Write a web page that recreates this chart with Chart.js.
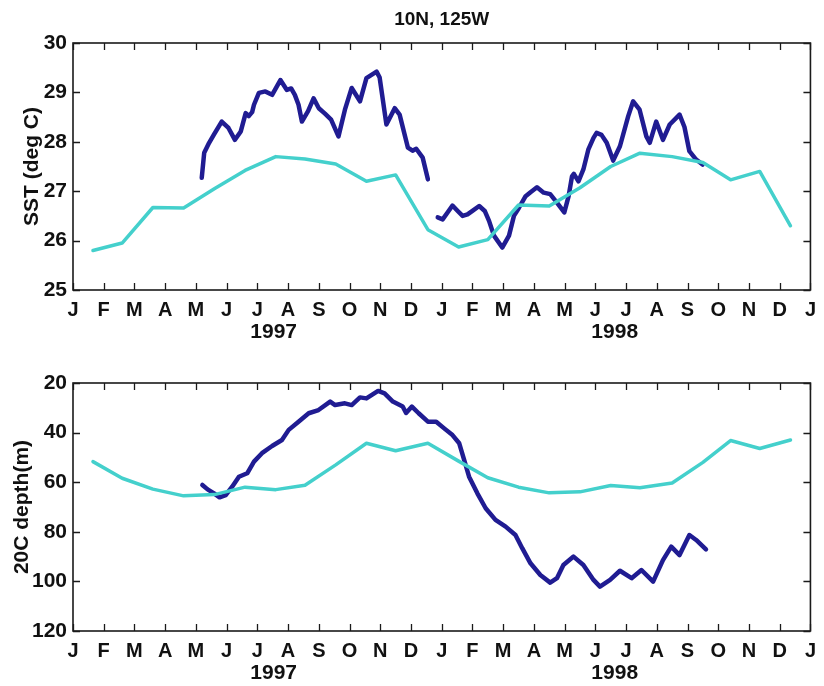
<!DOCTYPE html>
<html>
<head>
<meta charset="utf-8">
<title>10N, 125W</title>
<script src="https://cdn.jsdelivr.net/npm/chart.js@4"></script>
<style>
  body { margin: 0; background: #fff; }
  canvas { display: block; }
</style>
</head>
<body>
<canvas id="sstChart" width="824" height="343"></canvas>
<canvas id="depthChart" width="824" height="343"></canvas>
<script>
// month axis: 0 = 1 Jan 1997, 24 = 1 Jan 1999
const monthLetters = ['J', 'F', 'M', 'A', 'M', 'J', 'J', 'A', 'S', 'O', 'N', 'D'];
const yearLabels = ['1997', '1998'];
const yearLabelAt = [6.53, 17.63];

// monthly climatology, plotted near mid-month
const climX = [0.65, 1.6, 2.6, 3.6, 4.6, 5.6, 6.6, 7.55, 8.55, 9.55, 10.5, 11.55,
  12.55, 13.5, 14.5, 15.5, 16.5, 17.5, 18.45, 19.5, 20.5, 21.4, 22.35, 23.35];
const sstClim = [25.8, 25.95, 26.67, 26.66, 27.05, 27.42, 27.7, 27.65, 27.55, 27.2, 27.33, 26.22,
  25.87, 26.02, 26.72, 26.7, 27.07, 27.5, 27.77, 27.7, 27.58, 27.23, 27.4, 26.3];
const depthClim = [51.7, 58.4, 62.8, 65.5, 65, 62, 63, 61.2, 53, 44.3, 47.3, 44.3,
  51.5, 58.2, 62, 64.3, 63.9, 61.3, 62.2, 60.3, 52, 43.2, 46.4, 43];

// mooring SST, 1997 deployment
const sst97X = [4.19, 4.27, 4.43, 4.59, 4.84, 5.06, 5.27, 5.46, 5.62, 5.72, 5.83, 5.89, 6.05, 6.26,
  6.48, 6.75, 6.96, 7.1, 7.22, 7.34, 7.45, 7.65, 7.83, 8.0, 8.2, 8.4, 8.64, 8.85, 9.07, 9.34,
  9.55, 9.88, 9.98, 10.2, 10.47, 10.63, 10.9, 11.05, 11.17, 11.38, 11.55];
const sst97Y = [27.27, 27.78, 27.98, 28.15, 28.41, 28.28, 28.04, 28.21, 28.58, 28.52, 28.6, 28.75,
  28.99, 29.02, 28.95, 29.25, 29.05, 29.08, 28.95, 28.75, 28.41, 28.62, 28.88, 28.68, 28.57, 28.45,
  28.11, 28.65, 29.09, 28.82, 29.29, 29.42, 29.3, 28.35, 28.68, 28.55, 27.88, 27.82, 27.86, 27.68, 27.24];

// mooring SST, 1998 deployment
const sst98X = [11.87, 12.03, 12.19, 12.35, 12.52, 12.68, 12.84, 13.0, 13.22, 13.4, 13.54, 13.7,
  13.97, 14.19, 14.35, 14.51, 14.73, 14.89, 15.1, 15.32, 15.53, 15.75, 15.99, 16.13, 16.24, 16.3,
  16.45, 16.61, 16.77, 16.94, 17.04, 17.2, 17.37, 17.58, 17.8, 18.07, 18.23, 18.44, 18.66, 18.77,
  18.98, 19.2, 19.42, 19.74, 19.9, 20.06, 20.28, 20.49];
const sst98Y = [26.47, 26.43, 26.57, 26.71, 26.6, 26.5, 26.53, 26.6, 26.7, 26.6, 26.4, 26.1,
  25.86, 26.1, 26.5, 26.66, 26.9, 26.98, 27.08, 26.97, 26.94, 26.77, 26.57, 26.9, 27.3, 27.35,
  27.2, 27.44, 27.84, 28.08, 28.18, 28.14, 27.98, 27.62, 27.91, 28.52, 28.82, 28.65, 28.11, 27.98,
  28.41, 28.04, 28.35, 28.55, 28.3, 27.81, 27.64, 27.54];

// mooring 20C isotherm depth
const depthX = [4.21, 4.38, 4.59, 4.77, 4.97, 5.18, 5.4, 5.67, 5.89, 6.15, 6.48, 6.8, 7.02, 7.34,
  7.67, 7.99, 8.37, 8.53, 8.85, 9.07, 9.34, 9.55, 9.93, 10.14, 10.41, 10.73, 10.84, 11.03, 11.25,
  11.55, 11.82, 12.08, 12.35, 12.57, 12.73, 12.89, 13.16, 13.43, 13.75, 14.08, 14.4, 14.62, 14.89,
  15.21, 15.53, 15.75, 15.96, 16.29, 16.61, 16.94, 17.15, 17.48, 17.8, 18.18, 18.5, 18.88, 19.2,
  19.47, 19.74, 20.06, 20.28, 20.6];
const depthY = [61.1, 62.9, 64.5, 66.1, 65.2, 61.8, 57.8, 56.4, 51.7, 48.3, 45.4, 43.0, 38.9, 35.6,
  32.2, 30.9, 27.5, 28.9, 28.2, 28.9, 25.8, 26.2, 23.2, 24.2, 27.5, 29.5, 32.1, 29.5, 32.2,
  35.6, 35.6, 38.3, 41.0, 44.3, 51.0, 57.8, 64.5, 70.5, 75.2, 77.9, 81.3, 86.6, 92.7,
  97.4, 100.5, 98.7, 93.4, 90.0, 93.4, 99.4, 102.1, 99.4, 95.7, 98.7, 95.4, 100.1, 91.4,
  86.0, 89.4, 81.3, 83.3, 87.1];

const NAVY = '#201c92';
const CYAN = '#44d0cc';
const FONT = '"Liberation Sans", Arial, sans-serif';

const pairs = (xs, ys) => xs.map((x, i) => ({ x: x, y: ys[i] }));

// box, inward ticks, title, year labels and rotated y title
const framePlugin = {
  id: 'frame',
  afterDraw(chart, args, opts) {
    const { ctx, chartArea: a, scales: { x, y } } = chart;
    ctx.save();
    ctx.strokeStyle = '#1a1a1a';
    ctx.lineWidth = 1.6;
    ctx.strokeRect(a.left, a.top, a.width, a.height);
    ctx.lineWidth = 1.3;
    ctx.beginPath();
    x.ticks.forEach(t => {
      const px = Math.round(x.getPixelForValue(t.value)) + 0.5;
      ctx.moveTo(px, a.bottom); ctx.lineTo(px, a.bottom - 7);
      ctx.moveTo(px, a.top); ctx.lineTo(px, a.top + 7);
    });
    y.ticks.forEach(t => {
      const py = Math.round(y.getPixelForValue(t.value)) + 0.5;
      ctx.moveTo(a.left, py); ctx.lineTo(a.left + 7, py);
      ctx.moveTo(a.right, py); ctx.lineTo(a.right - 7, py);
    });
    ctx.stroke();

    ctx.fillStyle = '#111';
    ctx.textAlign = 'center';
    ctx.textBaseline = 'middle';
    if (opts.title) {
      ctx.font = 'bold 19px ' + FONT;
      ctx.fillText(opts.title, (a.left + a.right) / 2, a.top - 23);
    }
    ctx.font = 'bold 21px ' + FONT;
    yearLabels.forEach((lab, i) => {
      ctx.fillText(lab, x.getPixelForValue(yearLabelAt[i]), a.bottom + 42);
    });
    ctx.save();
    ctx.translate(a.left - opts.yTitleOffset, (a.top + a.bottom) / 2);
    ctx.rotate(-Math.PI / 2);
    ctx.font = 'bold 21px ' + FONT;
    ctx.fillText(opts.yTitle, 0, 0);
    ctx.restore();
    ctx.restore();
  }
};

function makeChart(id, datasets, yOpts, frameOpts, topPad, xHeight) {
  return new Chart(document.getElementById(id), {
    type: 'line',
    data: { datasets: datasets },
    plugins: [framePlugin],
    options: {
      responsive: false,
      animation: false,
      layout: { padding: { top: topPad, right: 9, left: 0, bottom: 0 } },
      elements: {
        point: { radius: 0 },
        line: { tension: 0, borderCapStyle: 'round', borderJoinStyle: 'round' }
      },
      plugins: { legend: { display: false }, tooltip: { enabled: false }, frame: frameOpts },
      scales: {
        x: {
          type: 'linear', min: 0, max: 24,
          grid: { display: false, drawTicks: false },
          border: { display: false },
          ticks: {
            stepSize: 1, autoSkip: false, maxRotation: 0, padding: 8,
            color: '#111', font: { family: FONT, size: 20, weight: 'bold' },
            callback: v => monthLetters[v % 12]
          },
          afterFit: s => { s.height = xHeight; }
        },
        y: Object.assign({
          grid: { display: false, drawTicks: false },
          border: { display: false },
          afterFit: s => { s.width = 73; }
        }, yOpts)
      }
    }
  });
}

makeChart('sstChart', [
  { data: pairs(climX, sstClim), borderColor: CYAN, borderWidth: 3.5 },
  { data: pairs(sst97X, sst97Y), borderColor: NAVY, borderWidth: 4.5 },
  { data: pairs(sst98X, sst98Y), borderColor: NAVY, borderWidth: 4.5 }
], {
  min: 25, max: 30,
  ticks: { stepSize: 1, padding: 6, color: '#111', font: { family: FONT, size: 21, weight: 'bold' } }
}, { title: '10N, 125W', yTitle: 'SST (deg C)', yTitleOffset: 41 }, 43, 53);

makeChart('depthChart', [
  { data: pairs(climX, depthClim), borderColor: CYAN, borderWidth: 3.5 },
  { data: pairs(depthX, depthY), borderColor: NAVY, borderWidth: 4.5 }
], {
  min: 20, max: 120, reverse: true,
  ticks: { stepSize: 20, padding: 6, color: '#111', font: { family: FONT, size: 21, weight: 'bold' } }
}, { yTitle: '20C depth(m)', yTitleOffset: 51 }, 40, 55);
</script>
</body>
</html>
